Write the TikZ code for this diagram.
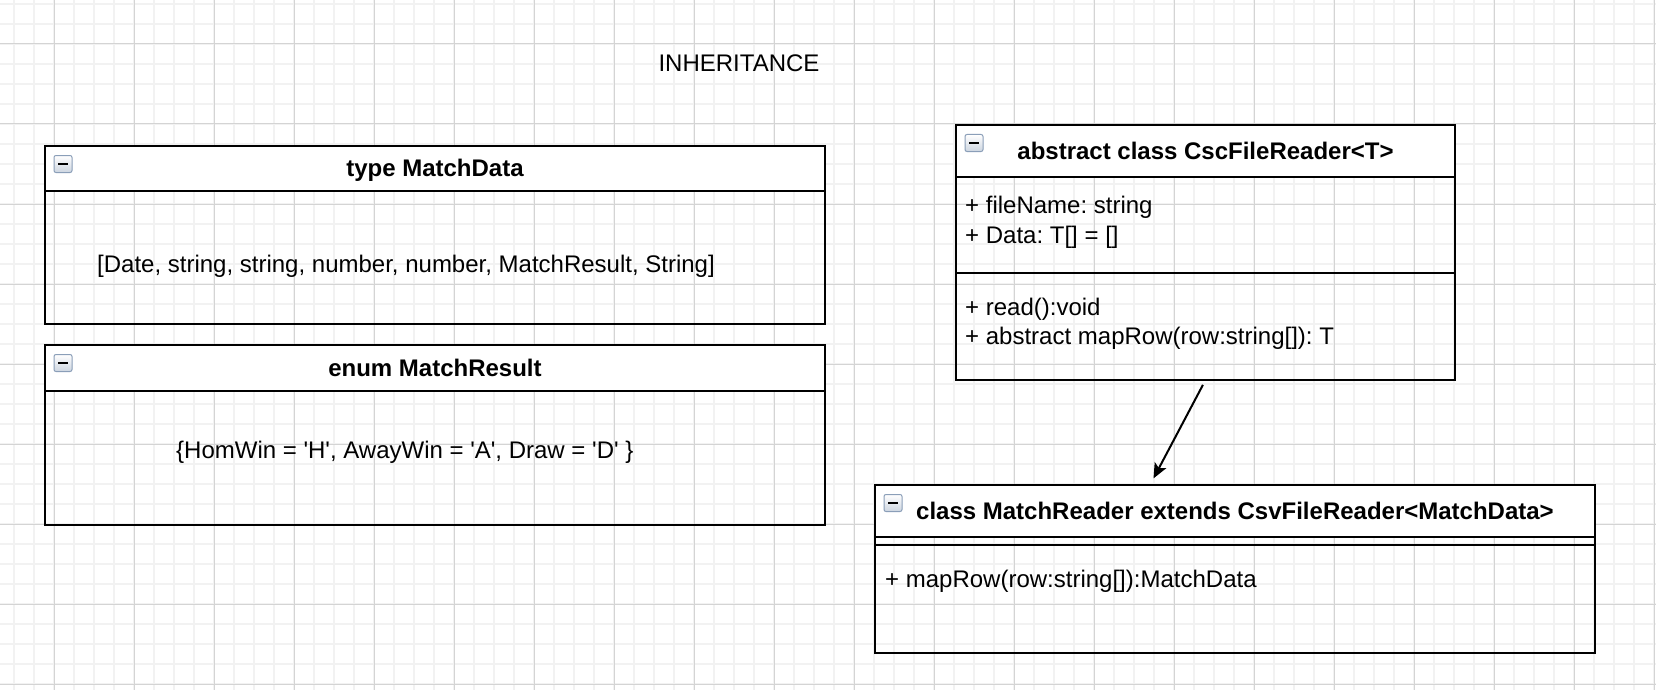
\documentclass[tikz,border=0pt]{standalone}
\usepackage{fontspec}
\setmainfont{Liberation Sans}[Ligatures=TeXOff]
\usetikzlibrary{
  arrows.meta,
  positioning
}
\definecolor{gridminor}{RGB}{242,242,242}
\definecolor{gridmajor}{RGB}{212,212,212}
\definecolor{iconedge}{RGB}{138,158,184}
\definecolor{iconfill}{RGB}{205,213,224}
\newcommand{\umlfont}{\fontsize{24}{30}\selectfont\frenchspacing}

\begin{document}
\begin{tikzpicture}[x=1pt, y=-1pt, >=Stealth, font=\umlfont]

  \useasboundingbox (0,0) rectangle (1656,690);

  % background grid (minor every 20, major every 80)
  \foreach \gx in {14,34,...,1654}
    \draw[gridminor, line width=1.6pt] (\gx,0) -- (\gx,690);
  \foreach \gy in {4,24,...,684}
    \draw[gridminor, line width=1.6pt] (0,\gy) -- (1656,\gy);
  \foreach \gx in {54,134,...,1654}
    \draw[gridmajor, line width=1pt] (\gx,0) -- (\gx,690);
  \foreach \gy in {44,124,...,684}
    \draw[gridmajor, line width=1pt] (0,\gy) -- (1656,\gy);

  \tikzset{
    classpart/.style={draw, line width=2pt, outer sep=0pt, inner sep=0pt},
    classhead/.style={classpart, fill=white, text height=19pt, text depth=3pt,
                      font=\umlfont\bfseries},
    membertext/.style={anchor=base west, inner sep=0pt, font=\umlfont},
    foldicon/.style={draw=iconedge, line width=1pt, rounded corners=2pt,
                     top color=white, bottom color=iconfill,
                     minimum width=18pt, minimum height=17pt, inner sep=0pt}
  }

  \node[anchor=base, inner sep=0pt] (title) at (739,72) {INHERITANCE};

  % type MatchData
  \node[classhead, minimum width=780pt, minimum height=45pt] (mdhead)
    at (435,168.5) {type MatchData};
  \node[classpart, minimum width=780pt, minimum height=133pt,
        below=0pt of mdhead] (mdbody) {};
  \node[foldicon] (mdicon) at ([xshift=18pt, yshift=-18pt]mdhead.north west)
    {\rule{10pt}{2.5pt}};
  \node[membertext] (mdtext) at (97,272)
    {[Date, string, string, number, number, MatchResult, String]};

  % enum MatchResult
  \node[classhead, minimum width=780pt, minimum height=46pt] (mrhead)
    at (435,368) {enum MatchResult};
  \node[classpart, minimum width=780pt, minimum height=134pt,
        below=0pt of mrhead] (mrbody) {};
  \node[foldicon] (mricon) at ([xshift=18pt, yshift=-18pt]mrhead.north west)
    {\rule{10pt}{2.5pt}};
  \node[membertext] (mrtext) at (176,458)
    {\{HomWin = 'H', AwayWin = 'A', Draw = 'D' \}};

  % abstract class CscFileReader<T>
  \def\sx{965}
  \node[classhead, minimum width=499pt, minimum height=52pt] (cschead)
    at (1205.5,151) {abstract class CscFileReader<T>};
  \node[classpart, minimum width=499pt, minimum height=96pt,
        below=0pt of cschead] (cscattr) {};
  \node[classpart, minimum width=499pt, minimum height=107pt,
        below=0pt of cscattr] (cscmeth) {};
  \node[foldicon] (cscicon) at ([xshift=18pt, yshift=-18pt]cschead.north west)
    {\rule{10pt}{2.5pt}};
  \node[membertext] (cscattra) at (\sx,213) {+ fileName: string};
  \node[membertext] (cscattrb) at (\sx,243) {+ Data: T[] = []};
  \node[membertext] (cscmetha) at (\sx,315) {+ read():void};
  \node[membertext] (cscmethb) at (\sx,344) {+ abstract mapRow(row:string[]): T};

  % class MatchReader
  \node[classhead, minimum width=720pt, minimum height=52pt] (rdhead)
    at (1235,511) {class MatchReader extends CsvFileReader<MatchData>};
  \node[classpart, minimum width=720pt, minimum height=8pt,
        below=0pt of rdhead] (rdattr) {};
  \node[classpart, minimum width=720pt, minimum height=108pt,
        below=0pt of rdattr] (rdmeth) {};
  \node[foldicon] (rdicon) at ([xshift=18pt, yshift=-18pt]rdhead.north west)
    {\rule{10pt}{2.5pt}};
  \node[membertext] (rdtext) at (885,587) {+ mapRow(row:string[]):MatchData};

  % inheritance arrow
  \coordinate (rdentry) at ([xshift=-85pt]rdhead.north);
  \draw[-{Stealth[length=15pt, width=13pt, inset=3.5pt]}, line width=2pt,
        shorten <=5.5pt, shorten >=7.5pt]
    (cscmeth.south) -- (rdentry);

\end{tikzpicture}
\end{document}
